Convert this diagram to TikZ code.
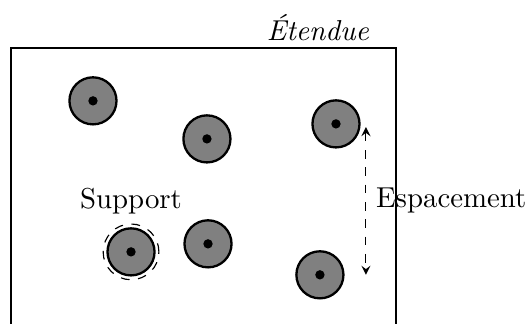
\documentclass[tikz,border=0pt]{standalone}
\usepackage{tikz}

\begin{document}
\begin{tikzpicture}[
  site/.style={circle, draw, thick, fill=gray, minimum size=0.574cm, inner sep=0pt, outer sep=0pt}]
\useasboundingbox (0,0) rectangle (6.44,3.95);
\draw [line width=0.7pt] (0.134,-0.5) -- (0.134,3.366) -- (4.83,3.366) -- (4.83,-0.5);
\node at (3.878,3.61) {\textit{Étendue}};
% sites
\node[site] (s1) at (1.134,2.72) {};
\node[site] (s2) at (2.524,2.256) {};
\node[site] (s3) at (4.098,2.439) {};
\node[site] (s4) at (1.598,0.878) {};
\node[site] (s5) at (2.537,0.976) {};
\node[site] (s6) at (3.902,0.598) {};
\foreach \s in {s1,s2,s3,s4,s5,s6}
  \fill (\s) circle (0.057);
\draw[dashed] (s4) circle (0.34);
\node[above] at (1.598,1.218) {Support};
\coordinate (e1) at (4.463,2.40);
\coordinate (e2) at (4.463,0.598);
\draw[dashed, <->, >=stealth] (e1) -- (e2) node[midway, right] {Espacement};
\end{tikzpicture}
\end{document}
